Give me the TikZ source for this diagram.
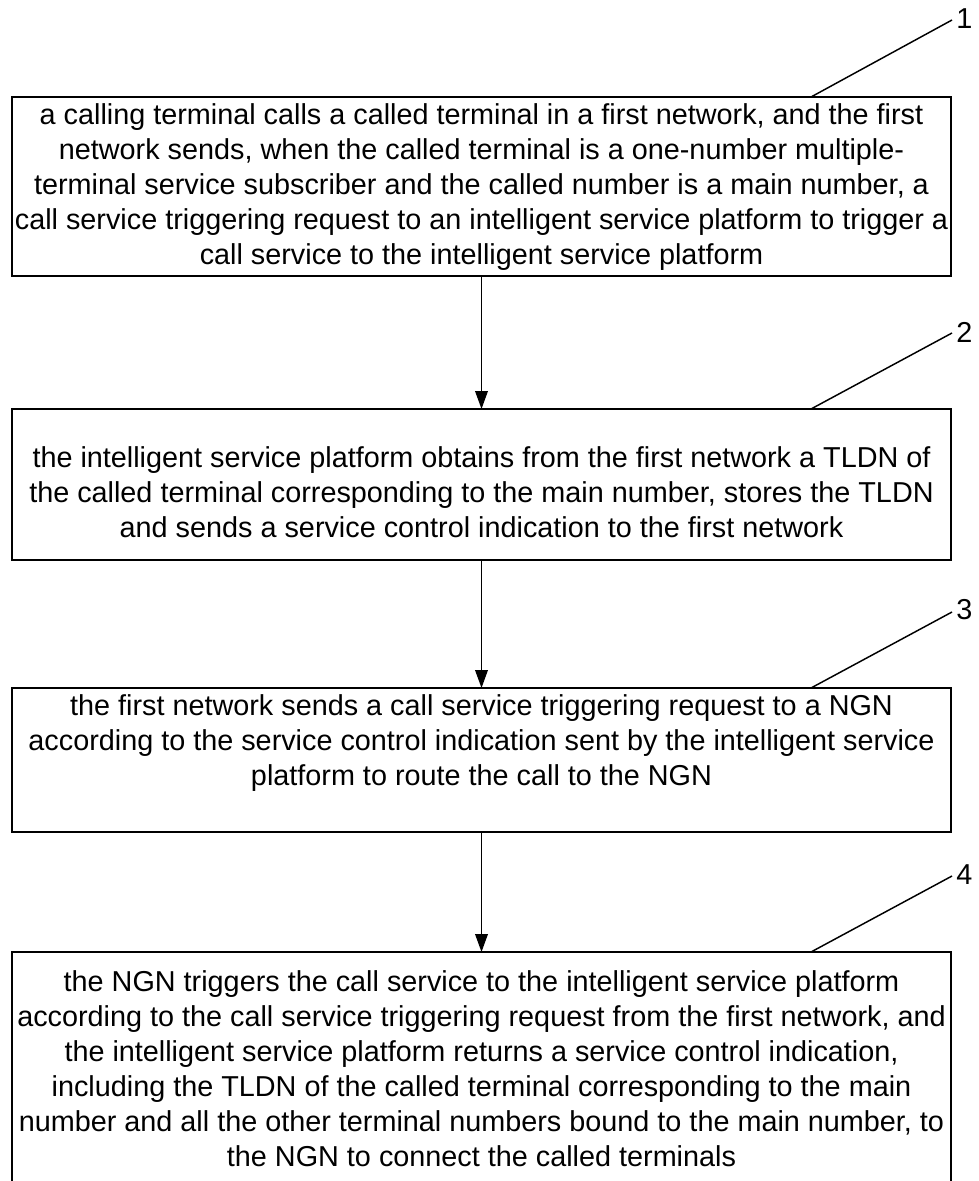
\documentclass[tikz,border=0pt]{standalone}
\usepackage{fontspec}
\setmainfont{Liberation Sans}
\usetikzlibrary{arrows.meta,calc}
\begin{document}
\begin{tikzpicture}[x=0.75pt,y=-0.75pt,
 box/.style={draw,line width=1.1pt,inner sep=0pt,outer sep=0pt,minimum width=704.25pt},
 txt/.style={align=center,inner sep=0pt,font=\fontsize{21.6}{26.25}\selectfont},
 num/.style={anchor=west,inner sep=0pt,font=\fontsize{21.6}{26.25}\selectfont},
 lead/.style={line width=1.1pt},
 arr/.style={line width=1.1pt,-{Triangle[length=13.5pt,width=9.5pt]}}]
\useasboundingbox[fill=white] (0,0) rectangle (978,1181);
% boxes
\node[box,minimum height=134.25pt] (b1) at (481.5,186.5) {};
\node[box,minimum height=113.25pt] (b2) at (481.5,484.5) {};
\node[box,minimum height=108pt] (b3) at (481.5,760) {};
\node[box,minimum height=186pt] (b4) at (481.5,1076) {};
% texts
\node[txt] (t1) at (481.5,186.7) {a calling terminal calls a called terminal in a first network, and the first\\
network sends, when the called terminal is a one-number multiple-\\
terminal service subscriber and the called number is a main number, a\\
call service triggering request to an intelligent service platform to trigger a\\
call service to the intelligent service platform};
\node[txt] (t2) at (481.5,492) {the intelligent service platform obtains from the first network a TLDN of\\
the called terminal corresponding to the main number, stores the TLDN\\
and sends a service control indication to the first network};
\node[txt] (t3) at (481.5,743) {the first network sends a call service triggering request to a NGN\\
according to the service control indication sent by the intelligent service\\
platform to route the call to the NGN};
\node[txt] (t4) at (481.5,1068.5) {the NGN triggers the call service to the intelligent service platform\\
according to the call service triggering request from the first network, and\\
the intelligent service platform returns a service control indication,\\
including the TLDN of the called terminal corresponding to the main\\
number and all the other terminal numbers bound to the main number, to\\
the NGN to connect the called terminals};
% arrows
\draw[arr] (b1.south) -- (b2.north);
\draw[arr] (b2.south) -- (b3.north);
\draw[arr] (b3.south) -- (b4.north);
% leader lines and numbers
\coordinate (l1) at (952,20);
\coordinate (l2) at (952,333);
\coordinate (l3) at (952,612);
\coordinate (l4) at (952,876);
\node[num] (n1) at (956,19) {1};
\node[num] (n2) at (956,332) {2};
\node[num] (n3) at (956,610) {3};
\node[num] (n4) at (956,875) {4};
\draw[lead] ($(b1.north)+(329.5,0)$) -- (l1);
\draw[lead] ($(b2.north)+(329.5,0)$) -- (l2);
\draw[lead] ($(b3.north)+(329.5,0)$) -- (l3);
\draw[lead] ($(b4.north)+(329.5,0)$) -- (l4);
\end{tikzpicture}
\end{document}
